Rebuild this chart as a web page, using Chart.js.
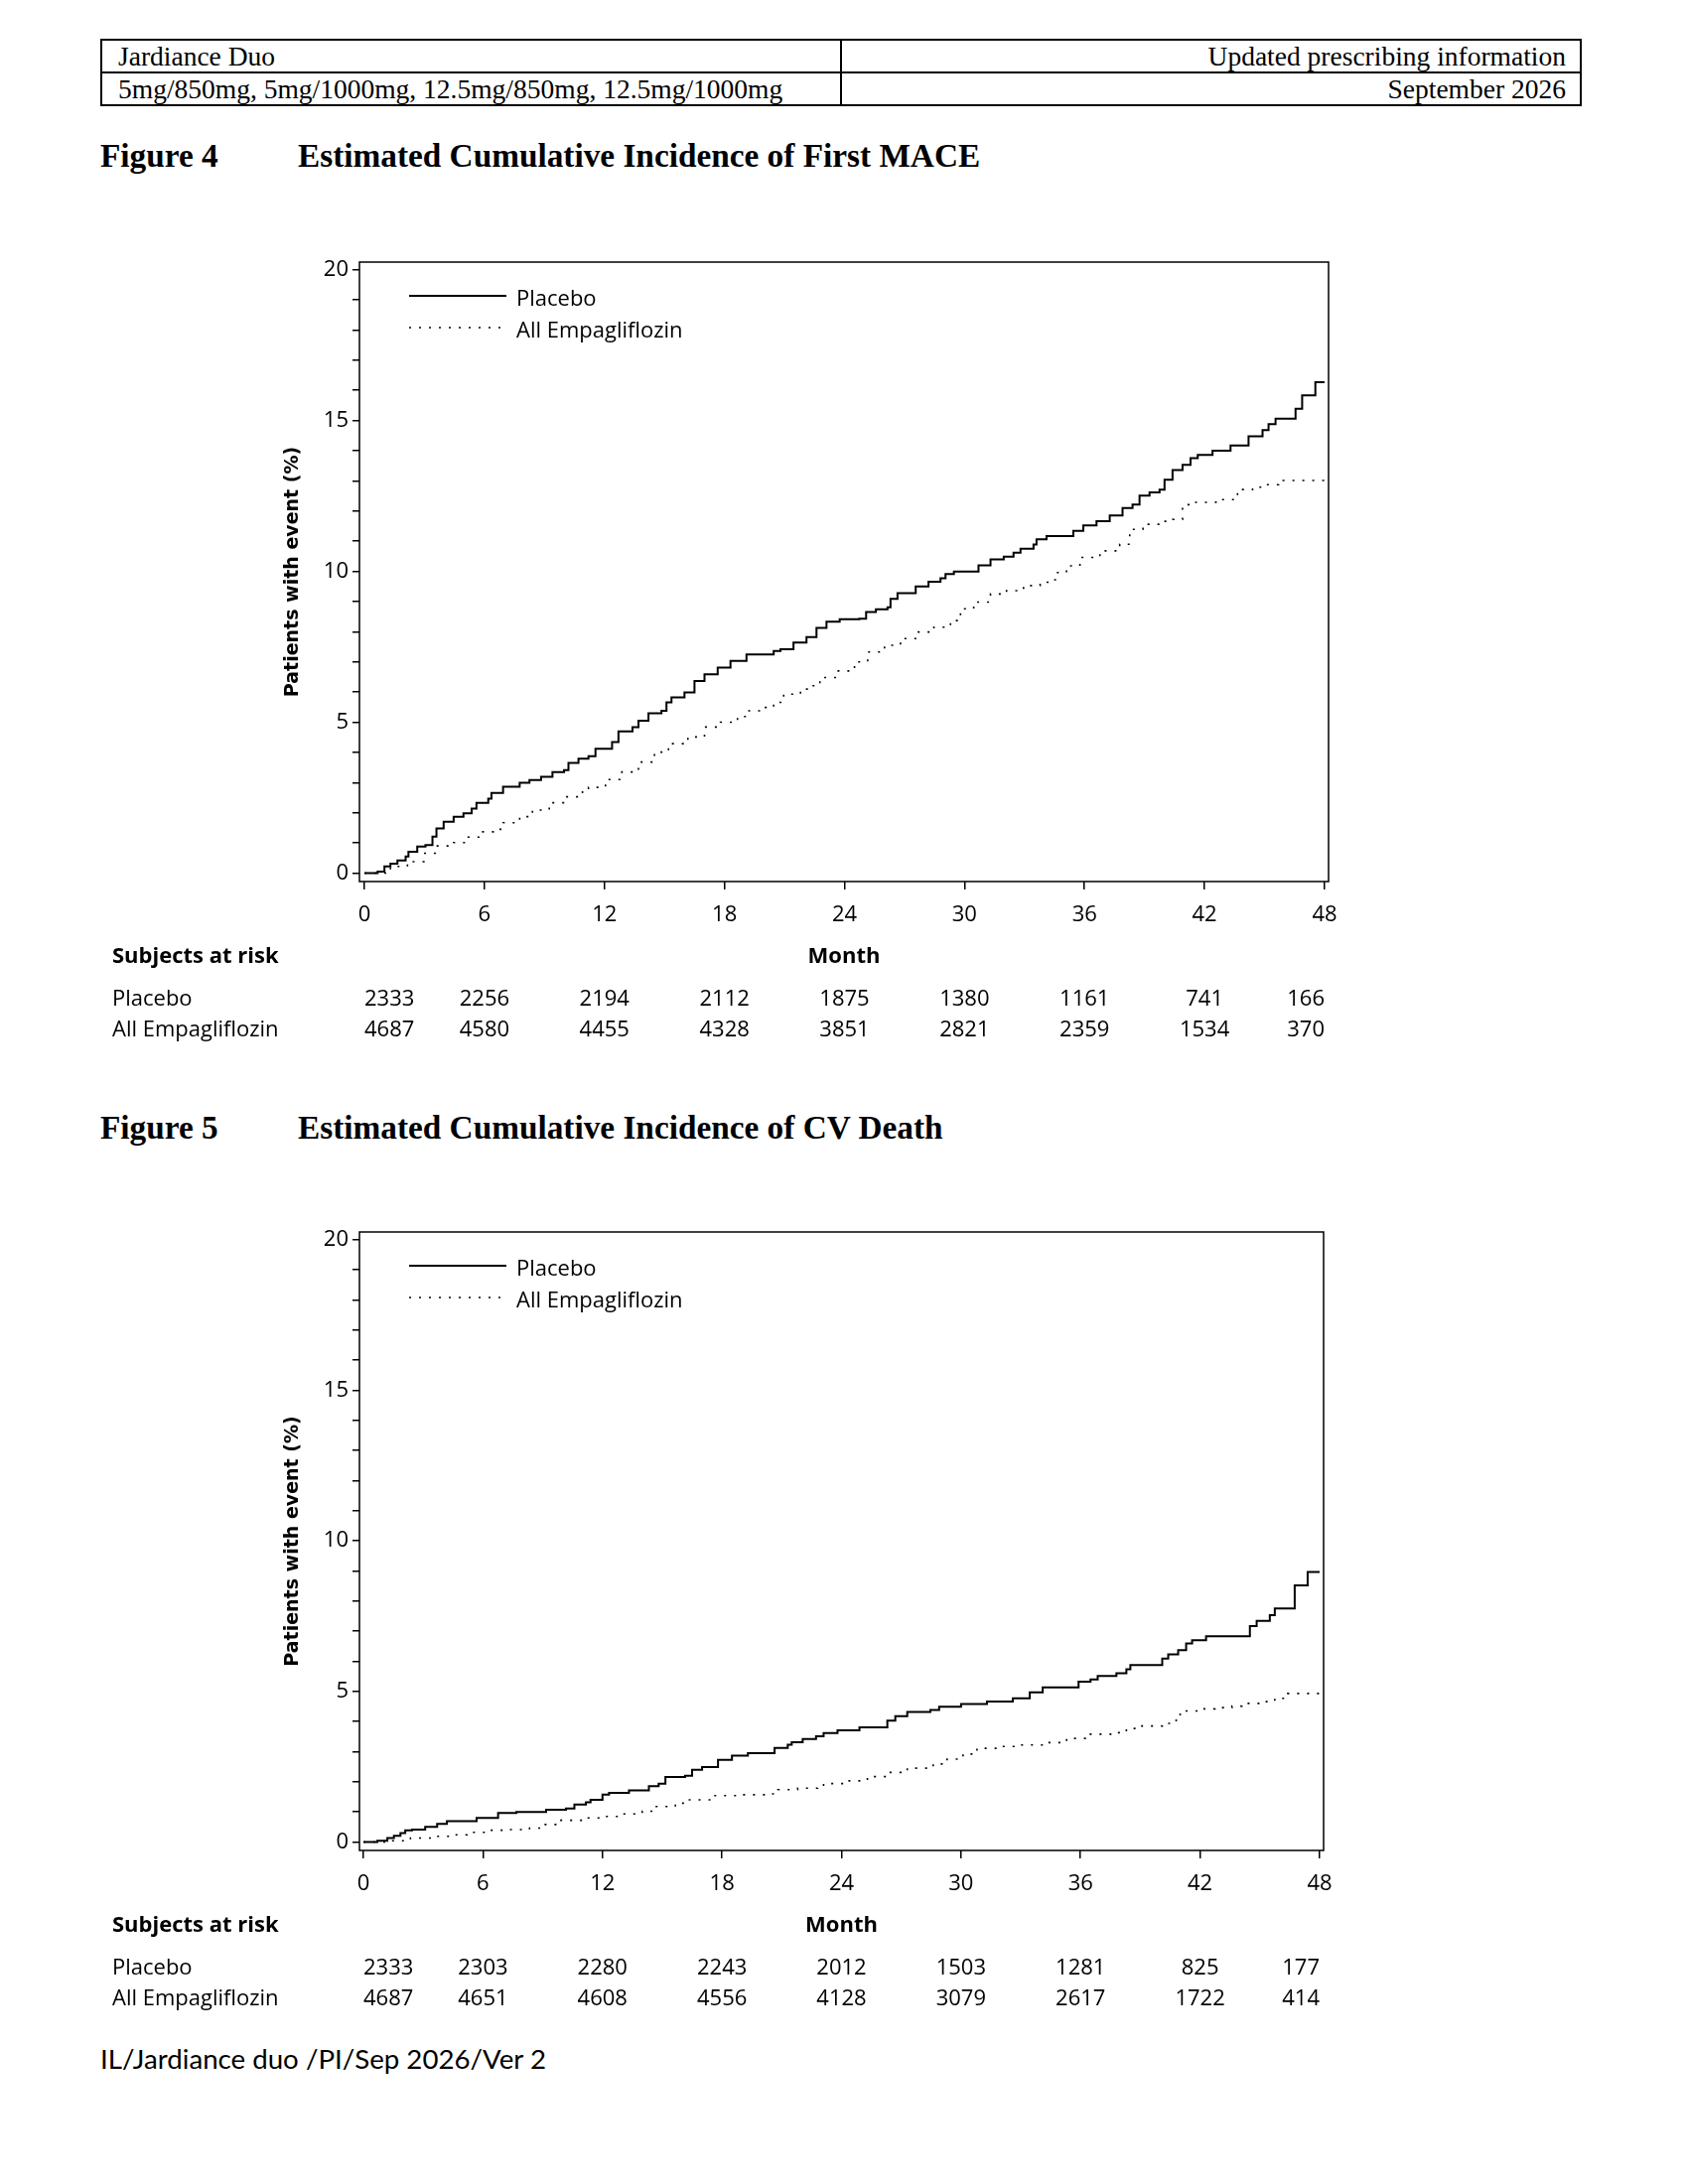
<!DOCTYPE html>
<html>
<head>
<meta charset="utf-8">
<script src="https://cdn.jsdelivr.net/npm/chart.js@4.4.1/dist/chart.umd.min.js"></script>
<style>
  html, body { margin: 0; padding: 0; background: #fff; }
  #page { position: relative; width: 1700px; height: 2200px; background: #fff; overflow: hidden; color: #000; }
  table.hdr { position: absolute; left: 101px; top: 39px; width: 1492px; border-collapse: collapse;
              font-family: 'Liberation Serif', 'Times New Roman', serif; font-size: 27.5px; }
  table.hdr td { border: 2px solid #000; height: 31px; line-height: 30px; padding: 0 14px 0 16px; white-space: nowrap; width: 50%; }
  table.hdr td.r { text-align: right; }
  .fig { position: absolute; left: 101px; font: bold 33.3px 'Liberation Serif', 'Times New Roman', serif; line-height: 40px; white-space: nowrap; }
  .fig span { position: absolute; left: 199px; top: 0; }
  #footer { position: absolute; left: 101px; top: 2056px; font-family: Lato, 'Open Sans', sans-serif; font-size: 29px; line-height: 36px; white-space: nowrap; }
  canvas { position: absolute; left: 0; }
</style>
</head>
<body>
<div id="page">
  <table class="hdr">
    <tr><td>Jardiance Duo</td><td class="r">Updated prescribing information</td></tr>
    <tr><td>5mg/850mg, 5mg/1000mg, 12.5mg/850mg, 12.5mg/1000mg</td><td class="r">September 2026</td></tr>
  </table>
  <div class="fig" style="top:137px">Figure 4<span>Estimated Cumulative Incidence of First MACE</span></div>
  <canvas id="c1" width="1700" height="830" style="top:230px"></canvas>
  <div class="fig" style="top:1116px">Figure 5<span>Estimated Cumulative Incidence of CV Death</span></div>
  <canvas id="c2" width="1700" height="830" style="top:1207px"></canvas>
  <div id="footer">IL/Jardiance duo /PI/Sep 2026/Ver 2</div>
</div>
<script>
// ---------------- DATA ----------------
const monthTicks = [0, 6, 12, 18, 24, 30, 36, 42, 48];
const seriesNames = ['Placebo', 'All Empagliflozin'];

// Figure 4 – First MACE, [month, % with event]
const macePlacebo = [[0,0],[0.66,0.05],[1.0,0.22],[1.3,0.31],[1.65,0.42],[2.06,0.55],[2.2,0.71],[2.64,0.88],[3.05,0.93],[3.4,1.21],[3.6,1.48],[3.96,1.70],[4.46,1.87],[4.95,1.98],[5.36,2.14],[5.6,2.33],[6.19,2.47],[6.35,2.66],[6.93,2.86],[7.76,2.99],[8.25,3.08],[8.83,3.19],[9.4,3.35],[9.98,3.41],[10.2,3.65],[10.7,3.79],[11.2,3.87],[11.55,4.12],[12.38,4.34],[12.7,4.70],[13.4,4.84],[13.7,5.05],[14.2,5.30],[14.85,5.38],[15.1,5.66],[15.35,5.82],[16.0,5.99],[16.5,6.37],[17.0,6.59],[17.66,6.81],[18.3,7.03],[19.1,7.25],[20.46,7.36],[20.8,7.42],[21.45,7.64],[22.1,7.82],[22.6,8.13],[23.1,8.33],[23.76,8.41],[24.74,8.43],[25.08,8.65],[25.57,8.74],[26.15,8.81],[26.3,9.09],[26.65,9.28],[27.56,9.50],[28.2,9.66],[28.8,9.77],[29.05,9.91],[29.47,9.99],[30.7,10.20],[31.3,10.40],[31.96,10.49],[32.45,10.62],[32.8,10.75],[33.45,10.89],[33.6,11.06],[34.1,11.17],[35.44,11.34],[35.94,11.52],[36.6,11.66],[37.26,11.85],[37.9,12.10],[38.4,12.21],[38.75,12.51],[39.25,12.62],[39.75,12.71],[40.0,13.04],[40.4,13.36],[40.9,13.53],[41.3,13.75],[41.66,13.86],[42.4,14.00],[43.3,14.17],[44.2,14.48],[44.9,14.68],[45.2,14.88],[45.55,15.06],[46.55,15.39],[46.88,15.83],[47.54,16.27],[48.0,16.27]];
const maceEmpa = [[0,0],[1.3,0.22],[2.15,0.38],[2.97,0.66],[3.6,0.90],[4.46,1.01],[5.1,1.19],[5.78,1.37],[6.44,1.45],[6.93,1.67],[7.76,1.87],[8.4,2.09],[9.24,2.33],[10.07,2.53],[10.9,2.77],[11.2,2.84],[12.05,3.10],[12.87,3.35],[13.7,3.68],[14.5,4.01],[15.2,4.29],[16.17,4.51],[17.0,4.84],[17.8,5.00],[18.65,5.19],[19.1,5.38],[19.97,5.49],[20.46,5.66],[20.96,5.93],[21.8,6.10],[22.44,6.21],[22.77,6.48],[23.6,6.70],[24.5,7.00],[25.16,7.33],[26.0,7.55],[26.8,7.77],[27.65,7.99],[28.47,8.15],[29.3,8.37],[29.8,8.76],[30.46,8.98],[31.3,9.25],[32.1,9.36],[32.95,9.53],[33.78,9.64],[34.28,9.72],[34.6,9.96],[35.1,10.18],[35.77,10.46],[36.77,10.68],[37.76,10.90],[38.26,11.39],[38.92,11.56],[39.75,11.66],[40.4,11.72],[40.9,12.21],[41.4,12.29],[42.57,12.38],[43.65,12.71],[44.4,12.79],[45.06,12.87],[45.7,13.01],[48.0,13.01]];
const maceRiskPlacebo = [2333, 2256, 2194, 2112, 1875, 1380, 1161, 741, 166];
const maceRiskEmpa    = [4687, 4580, 4455, 4328, 3851, 2821, 2359, 1534, 370];

// Figure 5 – CV death, [month, % with event]
const cvPlacebo = [[0,0],[0.7,0.04],[1.2,0.13],[1.53,0.21],[1.86,0.30],[2.1,0.39],[2.44,0.41],[3.1,0.50],[3.7,0.60],[4.19,0.69],[5.68,0.80],[6.76,0.96],[7.68,1.00],[9.17,1.07],[10.17,1.11],[10.59,1.24],[11.17,1.32],[11.4,1.40],[12.0,1.57],[12.33,1.63],[13.33,1.71],[14.33,1.85],[14.82,1.94],[15.16,2.16],[16.15,2.20],[16.5,2.40],[17.0,2.49],[17.8,2.73],[18.5,2.87],[19.3,2.95],[20.64,3.12],[21.3,3.23],[21.5,3.31],[22.05,3.42],[22.72,3.51],[23.1,3.62],[23.8,3.71],[24.9,3.81],[26.3,4.03],[26.7,4.18],[27.3,4.32],[28.46,4.38],[28.9,4.49],[30.0,4.58],[31.3,4.66],[32.6,4.77],[33.45,4.97],[34.1,5.13],[35.9,5.32],[36.5,5.40],[36.86,5.51],[37.8,5.60],[38.3,5.73],[38.5,5.87],[40.1,6.09],[40.4,6.23],[40.9,6.37],[41.3,6.59],[41.6,6.70],[42.3,6.83],[44.5,7.17],[44.84,7.34],[45.5,7.53],[45.75,7.75],[46.75,8.52],[47.4,8.96],[48.0,8.96]];
const cvEmpa = [[0,0],[1.36,0.04],[2.36,0.13],[3.5,0.19],[4.35,0.24],[5.2,0.32],[6.35,0.39],[7.35,0.41],[8.34,0.46],[9.0,0.58],[9.84,0.72],[11.0,0.80],[12.0,0.85],[12.83,0.93],[14.0,1.02],[14.66,1.18],[15.66,1.29],[16.32,1.40],[17.65,1.54],[18.8,1.57],[20.3,1.60],[20.8,1.74],[21.8,1.79],[22.8,1.81],[23.1,1.94],[24.3,2.03],[25.3,2.17],[26.3,2.31],[27.3,2.45],[28.6,2.59],[29.3,2.75],[30.1,2.92],[30.8,3.11],[31.95,3.17],[32.95,3.22],[34.3,3.30],[35.3,3.44],[36.3,3.58],[37.8,3.63],[38.3,3.77],[38.9,3.85],[40.1,3.94],[40.8,4.11],[41.0,4.35],[41.9,4.42],[42.75,4.46],[43.6,4.51],[44.1,4.60],[45.25,4.66],[45.75,4.77],[46.4,4.93],[48.0,4.93]];
const cvRiskPlacebo = [2333, 2303, 2280, 2243, 2012, 1503, 1281, 825, 177];
const cvRiskEmpa    = [4687, 4651, 4608, 4556, 4128, 3079, 2617, 1722, 414];

// ---------------- RENDER ----------------
const SANS = "'Open Sans', 'Noto Sans', sans-serif";
Chart.defaults.font.family = SANS;
Chart.defaults.color = '#000';

const overlay = {
  id: 'overlay',
  afterDraw(chart, args, o) {
    const { ctx, chartArea: a, scales: { x } } = chart;
    ctx.save();
    // frame
    ctx.strokeStyle = '#000';
    ctx.lineWidth = 1.5;
    ctx.setLineDash([]);
    ctx.strokeRect(a.left, a.top, a.right - a.left, a.bottom - a.top);

    // legend
    ctx.font = '22px ' + SANS;
    ctx.fillStyle = '#000';
    ctx.textBaseline = 'middle';
    ctx.textAlign = 'left';
    chart.data.datasets.forEach((ds, i) => {
      const y = a.top + 34 + i * 32;
      ctx.beginPath();
      ctx.lineWidth = ds.borderWidth;
      ctx.setLineDash(ds.borderDash || []);
      ctx.moveTo(a.left + 50, y);
      ctx.lineTo(a.left + 148, y);
      ctx.stroke();
      ctx.setLineDash([]);
      ctx.fillText(ds.label, a.left + 158, y + 4);
    });

    // at-risk table
    const yHead = a.bottom + 76;
    ctx.font = 'bold 22px ' + SANS;
    ctx.textAlign = 'left';
    ctx.fillText('Subjects at risk', 113, yHead);
    ctx.textAlign = 'center';
    ctx.fillText('Month', (a.left + a.right) / 2, yHead);
    ctx.font = '22px ' + SANS;
    o.risk.forEach((row, r) => {
      const y = a.bottom + 119 + r * 31;
      ctx.textAlign = 'left';
      ctx.fillText(seriesNames[r], 113, y);
      row.forEach((n, i) => {
        const px = x.getPixelForValue(monthTicks[i]);
        ctx.textAlign = i === 0 ? 'left' : (i === row.length - 1 ? 'right' : 'center');
        ctx.fillText(String(n), px, y);
      });
    });
    ctx.restore();
  }
};

function makeChart(id, placebo, empa, riskP, riskE, g) {
  return new Chart(document.getElementById(id), {
    type: 'line',
    data: {
      datasets: [
        { label: seriesNames[0], data: placebo, borderColor: '#000', borderWidth: 2, stepped: true,
          pointRadius: 0, fill: false, tension: 0 },
        { label: seriesNames[1], data: empa, borderColor: '#000', borderWidth: 1.6, borderDash: [2, 8], stepped: true,
          pointRadius: 0, fill: false, tension: 0 }
      ]
    },
    options: {
      responsive: false,
      animation: false,
      devicePixelRatio: 1,
      events: [],
      layout: { padding: { left: 284, right: g.padRight, top: g.padTop, bottom: g.padBottom } },
      plugins: { legend: { display: false }, tooltip: { enabled: false }, title: { display: false },
                 overlay: { risk: [riskP, riskE] } },
      scales: {
        x: {
          type: 'linear', min: g.xMin, max: g.xMax,
          afterFit(s) { s.height = 60; },
          border: { display: false },
          grid: { drawOnChartArea: false, drawTicks: true, tickLength: 8, color: '#000', lineWidth: 1.5 },
          ticks: { stepSize: 6, includeBounds: false, autoSkip: false, maxRotation: 0, padding: 13,
                   font: { size: 22 }, color: '#000' }
        },
        y: {
          type: 'linear', min: -0.28, max: 20.25,
          afterFit(s) { s.width = 78; },
          border: { display: false },
          grid: { drawOnChartArea: false, drawTicks: true, tickLength: 7, color: '#000', lineWidth: 1.5 },
          ticks: { stepSize: 1, includeBounds: false, autoSkip: false, padding: 4,
                   callback: v => (v % 5 === 0 ? String(v) : ''),
                   font: { size: 22 }, color: '#000' },
          title: { display: true, text: 'Patients with event (%)', color: '#000', padding: 0,
                   font: { family: "'DejaVu Sans', sans-serif", weight: 'bold', size: 19 } }
        }
      }
    },
    plugins: [overlay]
  });
}

makeChart('c1', macePlacebo, maceEmpa, maceRiskPlacebo, maceRiskEmpa,
          { padRight: 1700 - 1338, padTop: 34, padBottom: 830 - 658 - 60, xMin: -0.25, xMax: 48.2 });
makeChart('c2', cvPlacebo, cvEmpa, cvRiskPlacebo, cvRiskEmpa,
          { padRight: 1700 - 1333, padTop: 34, padBottom: 830 - 657 - 60, xMin: -0.2, xMax: 48.2 });

// fit footer width to reference (~449px)
(function () {
  const f = document.getElementById('footer');
  const w = f.getBoundingClientRect().width;
  if (w > 0) f.style.fontSize = (29 * 449 / w).toFixed(2) + 'px';
})();
</script>
</body>
</html>
